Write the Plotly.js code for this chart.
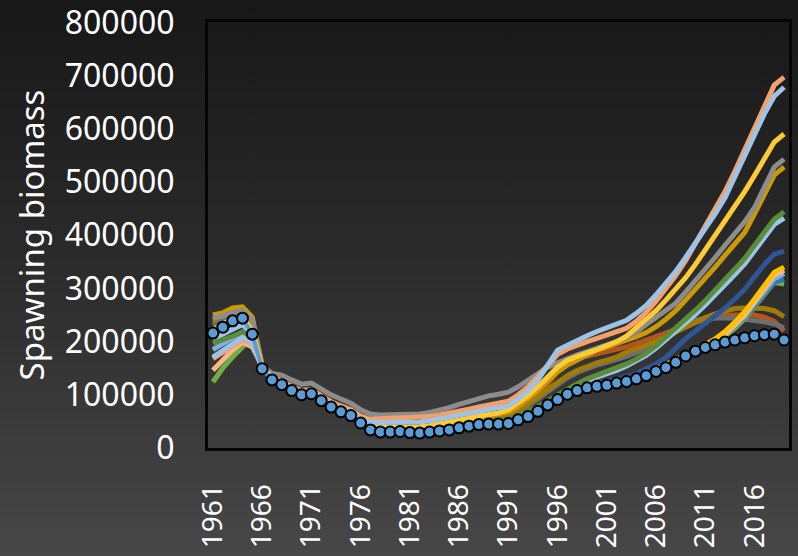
<!DOCTYPE html>
<html>
<head>
<meta charset="utf-8">
<script src="https://cdn.plot.ly/plotly-3.0.1.min.js"></script>
<style>
html,body{margin:0;padding:0;}
body{width:798px;height:556px;background:linear-gradient(to bottom,#171717 0%,#2a2a2a 45%,#474747 100%);overflow:hidden;}
#chart{width:798px;height:556px;}
</style>
</head>
<body>
<div id="chart"></div>
<script>
const years = [1961,1962,1963,1964,1965,1966,1967,1968,1969,1970,1971,1972,1973,1974,1975,1976,1977,1978,1979,1980,1981,1982,1983,1984,1985,1986,1987,1988,1989,1990,1991,1992,1993,1994,1995,1996,1997,1998,1999,2000,2001,2002,2003,2004,2005,2006,2007,2008,2009,2010,2011,2012,2013,2014,2015,2016,2017,2018,2019];
const xTickYears = [1961,1966,1971,1976,1981,1986,1991,1996,2001,2006,2011,2016];
const yTicks = [0,100000,200000,300000,400000,500000,600000,700000,800000];

const runOrange = [168000,180000,192000,203000,196000,152000,133000,126000,116000,108000,110000,98000,87000,79000,72000,60000,54000,55000,56000,57000,57000,57000,59000,62000,65000,69000,73000,77000,80000,83000,88000,100000,115000,134000,156000,176000,186000,194000,200000,206000,212000,218000,225000,238000,255000,276000,299000,324000,352000,384000,418000,452000,482000,520000,561000,601000,641000,682000,697000];
const runLightBlue = [171000,184000,197000,208000,198000,150000,131000,123000,112000,104000,106000,94000,83000,74000,67000,55000,48000,48000,48000,49000,49000,49000,51000,54000,57000,61000,65000,69000,72000,75000,79000,92000,108000,128000,155000,184000,193000,203000,211000,219000,226000,233000,240000,253000,268000,288000,310000,332000,358000,384000,412000,440000,470000,510000,550000,590000,628000,661000,678000];
const runYellow = [222000,232000,243000,248000,220000,152000,132000,123000,112000,104000,106000,93000,81000,72000,65000,51000,41000,39000,39000,40000,40000,40000,42000,45000,48000,52000,56000,60000,63000,66000,72000,84000,98000,115000,135000,152000,165000,173000,179000,185000,192000,200000,210000,225000,240000,258000,278000,298000,320000,345000,372000,398000,425000,455000,482000,512000,543000,575000,590000];
const runGray = [244000,248000,255000,258000,240000,155000,140000,137000,128000,120000,122000,110000,100000,92000,84000,72000,64000,62000,62000,63000,63000,64000,67000,71000,76000,82000,88000,94000,98000,101000,105000,115000,127000,140000,152000,160000,168000,175000,181000,187000,193000,200000,208000,218000,232000,245000,258000,272000,293000,314000,336000,358000,381000,404000,425000,452000,490000,528000,543000];
const runDarkGold = [250000,254000,263000,265000,246000,153000,133000,124000,113000,105000,107000,94000,82000,73000,66000,52000,40000,37000,37000,38000,37000,37000,39000,42000,45000,49000,53000,57000,60000,63000,68000,78000,92000,108000,126000,143000,156000,166000,176000,184000,190000,196000,203000,209000,217000,228000,242000,258000,278000,298000,318000,340000,362000,383000,405000,440000,475000,513000,528000];
const runGreen = [197000,203000,210000,218000,205000,150000,130000,121000,110000,102000,104000,91000,79000,70000,63000,49000,37000,34000,34000,35000,34000,34000,36000,38000,40000,43000,46000,48000,49000,50000,53000,60000,68000,78000,89000,100000,111000,121000,130000,137000,143000,150000,158000,167000,178000,192000,208000,224000,241000,259000,277000,296000,316000,336000,356000,381000,405000,430000,444000];
const runLightBlue2 = [205000,214000,224000,232000,215000,154000,133000,124000,113000,105000,107000,94000,82000,73000,66000,52000,39000,35000,35000,36000,34000,33000,35000,37000,39000,43000,46000,48000,49000,49000,51000,57000,65000,75000,86000,97000,108000,118000,127000,133000,139000,146000,154000,163000,174000,188000,203000,218000,234000,251000,269000,287000,306000,326000,346000,370000,395000,420000,432000];
const runNavy = [212000,222000,233000,240000,216000,152000,131000,122000,111000,103000,105000,92000,80000,71000,64000,50000,37000,33000,33000,34000,32000,31000,33000,35000,37000,41000,44000,47000,47000,47000,49000,56000,63000,73000,85000,95000,104000,111000,117000,121000,125000,129000,134000,140000,148000,158000,170000,188000,205000,220000,234000,248000,263000,280000,298000,322000,345000,364000,370000];
const runYellow2 = [214000,224000,236000,242000,216000,153000,132000,123000,112000,104000,106000,93000,81000,72000,65000,51000,38000,34000,34000,35000,33000,32000,34000,36000,38000,42000,45000,48000,49000,50000,51000,57000,64000,74000,86000,96000,106000,113000,118000,121000,124000,127000,131000,136000,142000,149000,157000,166000,175000,184000,194000,205000,219000,236000,256000,280000,305000,330000,340000];
const runPeach = [146000,165000,184000,199000,190000,154000,133000,124000,113000,105000,107000,94000,82000,73000,66000,52000,39000,35000,35000,36000,34000,33000,35000,37000,39000,43000,46000,48000,49000,48000,49000,56000,62000,72000,84000,94000,104000,111000,116000,119000,121000,125000,128000,133000,139000,146000,154000,163000,172000,180000,190000,200000,213000,230000,250000,275000,300000,325000,334000];
const runLightBlue3 = [185000,196000,208000,218000,204000,153000,132000,123000,112000,104000,106000,93000,81000,72000,65000,51000,38000,34000,34000,35000,33000,32000,34000,36000,38000,42000,45000,48000,49000,47000,49000,55000,62000,72000,83000,93000,103000,110000,115000,118000,120000,124000,127000,132000,138000,145000,152000,161000,170000,179000,189000,199000,212000,229000,248000,272000,296000,318000,328000];
const runBlue = [214000,225000,237000,242000,213000,151000,130000,121000,110000,102000,104000,91000,79000,70000,63000,49000,36000,32000,32000,33000,31000,30000,32000,34000,36000,40000,43000,46000,47000,46000,47000,54000,60000,70000,82000,92000,102000,109000,114000,117000,119000,122000,126000,131000,137000,145000,153000,163000,173000,182000,191000,201000,213000,228000,246000,268000,292000,312000,317000];
const runGreen2 = [124000,150000,171000,190000,205000,152000,131000,122000,111000,103000,105000,92000,80000,71000,64000,50000,37000,33000,33000,34000,32000,31000,33000,35000,37000,41000,44000,47000,48000,48000,50000,56000,63000,73000,85000,95000,105000,112000,117000,120000,122000,126000,129000,134000,140000,147000,154000,163000,171000,179000,188000,198000,210000,225000,243000,266000,290000,311000,308000];
const runDarkGold2 = [240000,247000,256000,260000,238000,156000,135000,126000,115000,107000,109000,96000,84000,75000,68000,54000,41000,37000,37000,38000,36000,35000,37000,39000,42000,46000,50000,54000,57000,60000,64000,72000,83000,96000,110000,124000,136000,146000,154000,160000,165000,171000,180000,186000,192000,200000,209000,218000,228000,237000,245000,252000,258000,262000,263000,263000,262000,258000,247000];
const runGray2 = [230000,238000,248000,252000,230000,155000,134000,125000,114000,106000,108000,95000,83000,74000,67000,53000,40000,36000,36000,37000,35000,34000,36000,38000,41000,45000,48000,52000,55000,58000,62000,70000,80000,92000,106000,120000,132000,142000,150000,156000,161000,166000,172000,179000,187000,198000,210000,222000,232000,240000,244000,245000,245000,244000,242000,240000,237000,233000,226000];
const runDarkOrange = [235000,243000,252000,256000,234000,155000,134000,125000,114000,106000,108000,95000,83000,74000,67000,53000,40000,36000,36000,37000,35000,34000,36000,38000,41000,45000,49000,53000,55000,57000,61000,69000,79000,95000,120000,145000,160000,168000,173000,177000,181000,185000,190000,196000,203000,210000,217000,224000,230000,236000,241000,245000,248000,250000,251000,250000,246000,238000,220000];
const baseRun = [216000,227000,239000,244000,214000,149000,128000,119000,108000,100000,102000,89000,77000,68000,61000,47000,34000,30000,30000,31000,29000,28000,30000,32000,34000,38000,41000,44000,45000,45000,46000,53000,59000,69000,81000,91000,101000,108000,113000,116000,118000,122000,125000,130000,136000,144000,151000,161000,173000,182000,189000,194000,199000,203000,207000,211000,213000,214000,203000];

const runs = [
  {y: runDarkOrange, c: '#b4561c'},
  {y: runGray2, c: '#6e6e6e'},
  {y: runDarkGold2, c: '#a07b05'},
  {y: runGreen2, c: '#70ad47'},
  {y: runBlue, c: '#2e75b6'},
  {y: runLightBlue3, c: '#7eb0e0'},
  {y: runPeach, c: '#f8b88b'},
  {y: runYellow2, c: '#ffc000'},
  {y: runNavy, c: '#2f5597'},
  {y: runLightBlue2, c: '#9dc3e6'},
  {y: runGreen, c: '#5a8c3a'},
  {y: runDarkGold, c: '#c99a06'},
  {y: runGray, c: '#8c8c8c'},
  {y: runYellow, c: '#ffcb35'},
  {y: runOrange, c: '#f4a06a'},
  {y: runLightBlue, c: '#9dc3e6'}
];

const traces = runs.map(r => ({
  x: years, y: r.y, type: 'scatter', mode: 'lines',
  line: {color: r.c, width: 5}, hoverinfo: 'skip', showlegend: false
}));
traces.push({
  x: years, y: baseRun, type: 'scatter', mode: 'lines+markers',
  line: {color: '#5b9bd5', width: 4},
  marker: {symbol: 'circle', size: 11, color: '#5b9bd5', line: {color: '#000000', width: 2}},
  showlegend: false
});

const font = 'Noto Sans, Open Sans, sans-serif';
const layout = {
  width: 798, height: 556,
  paper_bgcolor: 'rgba(0,0,0,0)', plot_bgcolor: 'rgba(0,0,0,0)',
  margin: {l: 208, r: 9, t: 22, b: 108},
  showlegend: false,
  font: {family: font, color: '#ffffff', size: 31},
  xaxis: {
    range: [1960.5, 2019.5], tickmode: 'array', tickvals: xTickYears, ticktext: xTickYears.map(String),
    tickangle: -90, ticks: '', showgrid: false, zeroline: false,
    showline: true, mirror: true, linecolor: '#050505', linewidth: 3,
    tickfont: {family: font, size: 28, color: '#ffffff'}, ticklabelstandoff: 22,
    ticklabeloverflow: 'allow'
  },
  yaxis: {
    range: [0, 800600], tickmode: 'array', tickvals: yTicks, ticktext: yTicks.map(String),
    ticks: '', showgrid: false, zeroline: false,
    showline: true, mirror: true, linecolor: '#050505', linewidth: 3,
    tickfont: {family: font, size: 32, color: '#ffffff'}, ticklabelstandoff: 24,
    ticklabeloverflow: 'allow',
    title: {text: 'Spawning biomass', font: {family: font, size: 33, color: '#ffffff'}, standoff: 11}
  }
};

Plotly.newPlot('chart', traces, layout, {displayModeBar: false, staticPlot: true});
</script>
</body>
</html>
